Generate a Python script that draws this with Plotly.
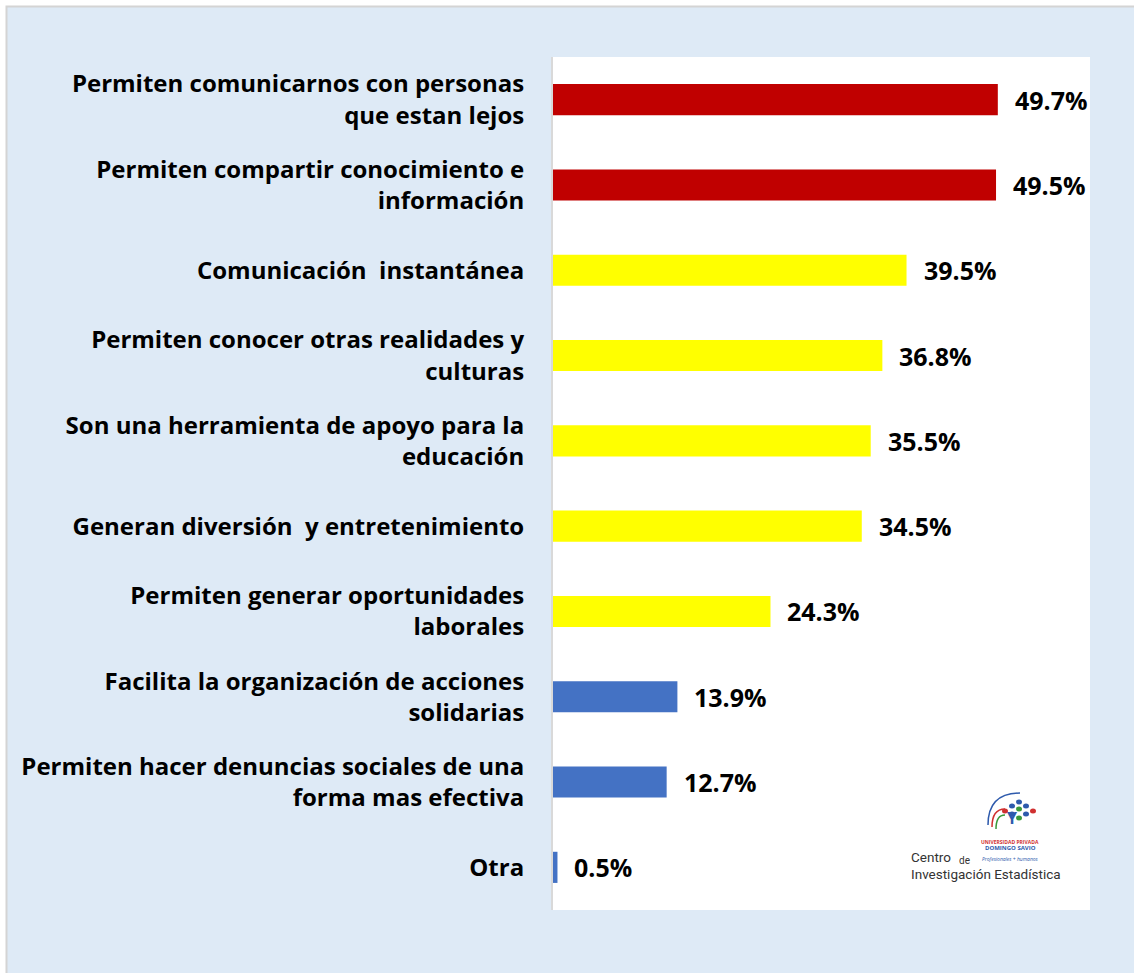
import plotly.graph_objects as go

# Beneficios de las redes sociales (% de respuestas)
categorias = [
    "Permiten comunicarnos con personas<br>que estan lejos",
    "Permiten compartir conocimiento e<br>información",
    "Comunicación  instantánea",
    "Permiten conocer otras realidades y<br>culturas",
    "Son una herramienta de apoyo para la<br>educación",
    "Generan diversión  y entretenimiento",
    "Permiten generar oportunidades<br>laborales",
    "Facilita la organización de acciones<br>solidarias",
    "Permiten hacer denuncias sociales de una<br>forma mas efectiva",
    "Otra",
]
porcentajes = [49.7, 49.5, 39.5, 36.8, 35.5, 34.5, 24.3, 13.9, 12.7, 0.5]
etiquetas = ["49.7%", "49.5%", "39.5%", "36.8%", "35.5%", "34.5%", "24.3%", "13.9%", "12.7%", "0.5%"]
colores = ["#C00000", "#C00000", "#FFFF00", "#FFFF00", "#FFFF00", "#FFFF00",
           "#FFFF00", "#4472C4", "#4472C4", "#4472C4"]

FONT = "Open Sans"
W, H = 1134, 973
L, R, T, B = 553, 44, 57, 63
PW, PH = W - L - R, H - T - B


def px(x, y):
    # posición en pixeles de la figura -> coordenadas "paper" (solo decoración)
    return (x - L) / PW, (H - B - y) / PH


fig = go.Figure()
fig.add_trace(go.Bar(
    x=porcentajes,
    y=categorias,
    orientation="h",
    marker=dict(color=colores, line=dict(width=0)),
    hoverinfo="skip",
))

# etiquetas de valor a la derecha de cada barra
for cat, val, txt in zip(categorias, porcentajes, etiquetas):
    fig.add_annotation(
        x=val, y=cat, text=f"<b>{txt}</b>",
        xanchor="left", yanchor="middle", xshift=15, showarrow=False,
        font=dict(family=FONT, size=25, color="#000000"),
    )

# marco exterior (borde gris arriba/izquierda) y área de gráfico blanca
x0, y0 = px(6.5, 6.5)
x1, y1 = px(W + 10, H + 10)
fig.add_shape(type="rect", xref="paper", yref="paper", x0=x0, x1=x1, y0=y1, y1=y0,
              fillcolor="#DEEAF6", line=dict(color="#D4D4D4", width=2), layer="below")
fig.add_shape(type="rect", xref="paper", yref="paper", x0=0, x1=1, y0=0, y1=1,
              fillcolor="#FFFFFF", line=dict(width=0), layer="below")

# logo del Centro de Investigación Estadística
LOGO_FONT = "Liberation Sans Narrow, Roboto"
for txt, (lx, ly), size in [("Centro", (909, 857), 13.5), ("de", (957, 860), 10),
                            ("Investigación Estadística", (909, 874), 13.5)]:
    ax, ay = px(lx, ly)
    fig.add_annotation(xref="paper", yref="paper", x=ax, y=ay, text=txt,
                       showarrow=False, xanchor="left", yanchor="middle",
                       font=dict(family=LOGO_FONT, size=size, color="#333333"))
for txt, (lx, ly), size, col in [("<b>UNIVERSIDAD PRIVADA</b>", (1010, 842), 5, "#D03030"),
                                 ("<b>DOMINGO SAVIO</b>", (1010, 848), 6, "#2E5AAC"),
                                 ("<i>Profesionales + humanos</i>", (1010, 859), 5, "#2E5AAC")]:
    ax, ay = px(lx, ly)
    fig.add_annotation(xref="paper", yref="paper", x=ax, y=ay, text=txt,
                       showarrow=False, xanchor="center", yanchor="middle",
                       font=dict(family="Open Sans", size=size, color=col))
dots = [(1019, 802, "#2E5AAC"), (1012, 806, "#2E5AAC"), (1026, 806, "#2E5AAC"),
        (1019, 809, "#3A9A3A"), (1005, 811, "#D03030"), (1033, 811, "#D03030"),
        (1012, 814, "#2E5AAC"), (1026, 814, "#2E5AAC"), (1019, 818, "#3A9A3A")]
for dx, dy, dc in dots:
    cx, cy = px(dx, dy)
    fig.add_shape(type="circle", xref="paper", yref="paper",
                  x0=cx - 3 / PW, x1=cx + 3 / PW, y0=cy - 2.5 / PH, y1=cy + 2.5 / PH,
                  fillcolor=dc, line=dict(width=0))
# figura y trazos del logo
fx, fy = px(1019, 831)
fig.add_annotation(xref="paper", yref="paper", x=fx, y=fy, text="<b>Y</b>",
                   showarrow=False, font=dict(family="Open Sans", size=16, color="#2E5AAC"))
for col, (sx, sy), (ex, ey) in [("#2E5AAC", (988, 825), (1020, 793)),
                                ("#D03030", (992, 827), (1005, 809)),
                                ("#3A9A3A", (996, 829), (1005, 815))]:
    a, b = px(sx, sy)
    c, d = px(ex, ey)
    fig.add_shape(type="path", xref="paper", yref="paper",
                  path=f"M {a} {b} Q {a} {d} {c} {d}",
                  line=dict(color=col, width=1.5))

fig.update_layout(
    width=W, height=H,
    margin=dict(l=L, r=R, t=T, b=B),
    paper_bgcolor="#FFFFFF",
    plot_bgcolor="#FFFFFF",
    bargap=0.635,
    showlegend=False,
    font=dict(family=FONT, size=24, color="#000000"),
)
fig.update_xaxes(range=[0, 60], visible=False, showgrid=False, zeroline=False)
fig.update_yaxes(
    autorange="reversed",
    showgrid=False, zeroline=False,
    showline=True, linecolor="#D9D9D9", linewidth=2,
    ticks="", ticklabelstandoff=22,
    tickfont=dict(family=FONT, size=24, color="#000000", weight="bold"),
)

fig.write_html("out.html", config={"displayModeBar": False},
               post_script="document.body.style.margin='0';document.body.style.overflow='hidden';")
